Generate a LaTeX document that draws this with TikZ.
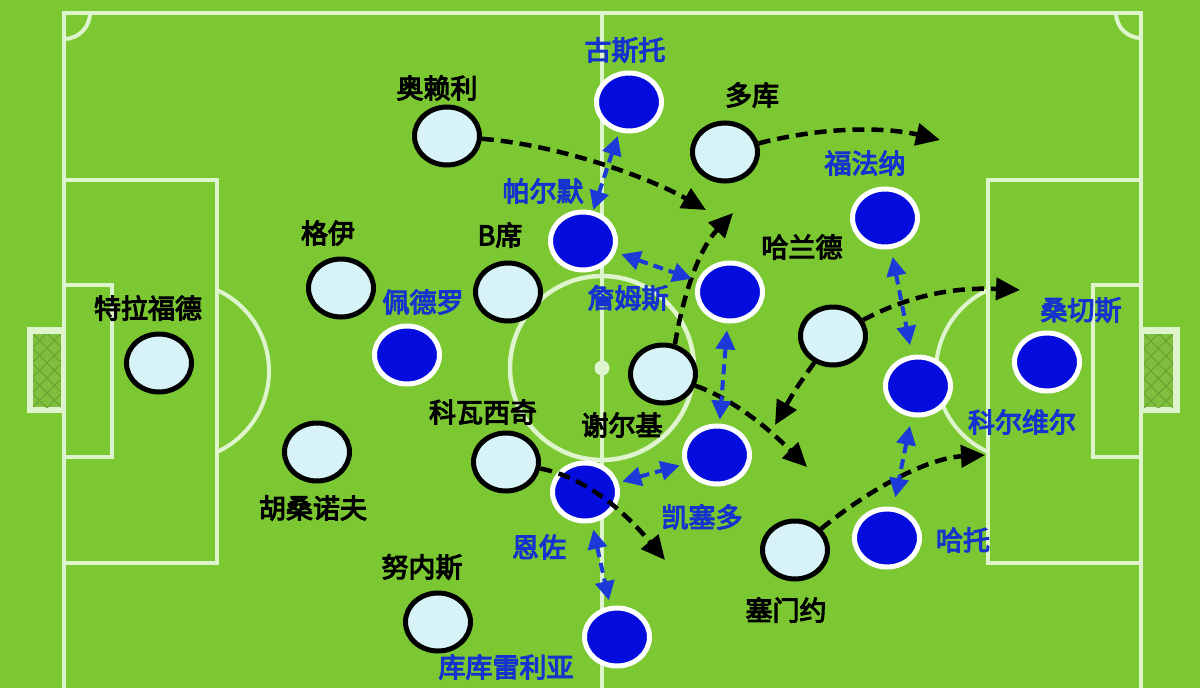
\documentclass[tikz,border=0pt]{standalone}
\usepackage{fontspec}
\newfontfamily\cjk{Noto Sans CJK SC}[FakeBold=4]
\usetikzlibrary{shapes.geometric,arrows.meta}
\definecolor{grass}{RGB}{124,200,50}
\definecolor{fline}{RGB}{222,244,204}
\definecolor{netbg}{RGB}{128,190,62}
\definecolor{netln}{RGB}{100,160,48}
\definecolor{ltfill}{RGB}{216,243,248}
\definecolor{blfill}{RGB}{4,12,222}
\definecolor{bltext}{RGB}{22,52,205}
\definecolor{blarrow}{RGB}{28,58,215}
\tikzset{
  fl/.style={draw=fline, line width=4.5pt},
  lt/.style={ellipse, draw=black, fill=ltfill, line width=5pt, minimum width=65pt, minimum height=58pt, inner sep=0pt},
  bl/.style={ellipse, draw=white, fill=blfill, line width=5pt, minimum width=65pt, minimum height=58pt, inner sep=0pt},
  lab/.style={font=\cjk\fontsize{27}{27}\selectfont, text=black, inner sep=0pt},
  blab/.style={lab, text=bltext},
  mv/.style={black, line width=4.5pt, dash pattern=on 12pt off 7pt, -{Triangle[length=24pt,width=22pt]}},
  sw/.style={blarrow, line width=4pt, dash pattern=on 10pt off 6pt, {Triangle[length=19pt,width=19pt]}-{Triangle[length=19pt,width=19pt]}},
}
\begin{document}
\begin{tikzpicture}[x=1pt,y=-1pt]
\useasboundingbox (0,0) rectangle (1200,688);
\fill[grass] (0,0) rectangle (1200,688);
% goals
\fill[fline] (27,327) rectangle (64,413);
\fill[netbg] (33,334) rectangle (61,407);
\begin{scope}
  \clip (33,334) rectangle (61,407);
  \foreach \k in {-60,-45,...,120} {
    \draw[netln, line width=1pt] (33,334+\k) -- (61,362+\k);
    \draw[netln, line width=1pt] (33,362+\k) -- (61,334+\k);
  }
\end{scope}
\fill[fline] (1141,327) rectangle (1180,413);
\fill[netbg] (1144,334) rectangle (1173,407);
\begin{scope}
  \clip (1144,334) rectangle (1173,407);
  \foreach \k in {-60,-45,...,120} {
    \draw[netln, line width=1pt] (1144,334+\k) -- (1173,363+\k);
    \draw[netln, line width=1pt] (1144,363+\k) -- (1173,334+\k);
  }
\end{scope}
% pitch lines
\draw[fl] (64,700) -- (64,13) -- (1141,13) -- (1141,700);
\draw[fl] (602,13) -- (602,700);
\draw[fl] (64,180) rectangle (217,563);
\draw[fl] (988,180) rectangle (1141,563);
\draw[fl] (64,285) rectangle (112,457);
\draw[fl] (1093,285) rectangle (1141,457);
\draw[fl] (602,368) circle (92);
\fill[fline] (602,368) circle (7.5);
\begin{scope}
  \clip (217,0) rectangle (400,688);
  \draw[fl, line width=4pt] (180,371) circle (89);
\end{scope}
\begin{scope}
  \clip (800,0) rectangle (988,688);
  \draw[fl, line width=4pt] (1025,371) circle (89);
\end{scope}
\begin{scope}
  \clip (64,13) rectangle (200,200);
  \draw[fl, line width=4pt] (64,13) circle (26);
\end{scope}
\begin{scope}
  \clip (1000,13) rectangle (1141,200);
  \draw[fl, line width=4pt] (1141,13) circle (25);
\end{scope}
% light team
\node[lt] (oreilly) at (447,136) {};
\node[lt] (doku) at (725,152) {};
\node[lt] (guehi) at (341,288) {};
\node[lt] (bsilva) at (508,292) {};
\node[lt] (trafford) at (159,363) {};
\node[lt] (cherki) at (663,374) {};
\node[lt] (haaland) at (833,336) {};
\node[lt] (kovacic) at (506,462) {};
\node[lt] (khusanov) at (317,452) {};
\node[lt] (nunes) at (438,622) {};
\node[lt] (semenyo) at (795,550) {};
% blue team
\node[bl] (gusto) at (629,102) {};
\node[bl] (palmer) at (583,241) {};
\node[bl] (james) at (730,292) {};
\node[bl] (pedro) at (407,355) {};
\node[bl] (fofana) at (885,218) {};
\node[bl] (sanchez) at (1047,362) {};
\node[bl] (colwill) at (918,386) {};
\node[bl] (hato) at (887,538) {};
\node[bl] (caicedo) at (717,455) {};
\node[bl] (enzo) at (585,492) {};
\node[bl] (cucu) at (617,637) {};
% labels
\node[lab] (l-oreilly) at (437,88) {奥赖利};
\node[blab] (l-gusto) at (625,50) {古斯托};
\node[lab] (l-doku) at (752,95) {多库};
\node[blab] (l-fofana) at (865,163) {福法纳};
\node[blab] (l-palmer) at (543,191) {帕尔默};
\node[lab] (l-guehi) at (328,233) {格伊};
\node[lab] (l-bsilva) at (500,235) {B席};
\node[lab] (l-haaland) at (802,247) {哈兰德};
\node[blab] (l-pedro) at (423,302) {佩德罗};
\node[blab] (l-james) at (628,298) {詹姆斯};
\node[lab] (l-trafford) at (148,308) {特拉福德};
\node[blab] (l-sanchez) at (1081,310) {桑切斯};
\node[lab] (l-kovacic) at (483,412) {科瓦西奇};
\node[lab] (l-cherki) at (622,425) {谢尔基};
\node[blab] (l-colwill) at (1022,422) {科尔维尔};
\node[lab] (l-khusanov) at (313,508) {胡桑诺夫};
\node[blab] (l-caicedo) at (702,517) {凯塞多};
\node[blab] (l-enzo) at (539,547) {恩佐};
\node[blab] (l-hato) at (963,540) {哈托};
\node[lab] (l-nunes) at (422,567) {努内斯};
\node[lab] (l-semenyo) at (786,610) {塞门约};
\node[blab] (l-cucu) at (506,667) {库库雷利亚};
% arrow targets
\coordinate (t1) at (706,210);
\coordinate (t2) at (940,140);
\coordinate (t3) at (733,213);
\coordinate (t4) at (807,467);
\coordinate (t5) at (775,425);
\coordinate (t6) at (1020,290);
\coordinate (t7) at (985,455);
\coordinate (t8) at (665,560);
% runs
\draw[mv] (oreilly) .. controls (560,145) and (650,178) .. (t1);
\draw[mv] (doku) .. controls (830,125) and (890,128) .. (t2);
\draw[mv] (cherki.68) .. controls (682,300) and (698,250) .. (t3);
\draw[mv] (cherki) .. controls (735,400) and (770,430) .. (t4);
\draw[mv] (haaland) .. controls (795,390) .. (t5);
\draw[mv] (haaland) .. controls (910,295) and (955,287) .. (t6);
\draw[mv] (semenyo) .. controls (875,485) and (930,458) .. (t7);
\draw[mv] (kovacic) .. controls (590,478) and (630,518) .. (t8);
% marking
\draw[sw, shorten <=4pt, shorten >=1pt] (gusto) -- (palmer);
\draw[sw, shorten <=6pt, shorten >=6pt] (palmer) -- (james);
\draw[sw, shorten <=7pt, shorten >=4pt] (james) -- (caicedo);
\draw[sw, shorten <=4pt, shorten >=4pt] (enzo) -- (caicedo);
\draw[sw, shorten <=7pt, shorten >=6pt] (enzo) -- (cucu);
\draw[sw, shorten <=8pt, shorten >=10pt] (fofana) -- (colwill);
\draw[sw, shorten <=9pt, shorten >=10pt] (colwill) -- (hato);
\end{tikzpicture}
\end{document}
